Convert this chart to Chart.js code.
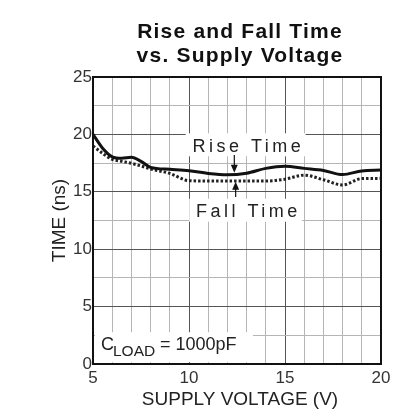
<!DOCTYPE html>
<html>
<head>
<meta charset="utf-8">
<script src="https://cdn.jsdelivr.net/npm/chart.js@4.4.0/dist/chart.umd.min.js"></script>
<style>
  html, body { margin: 0; padding: 0; background: #fff; }
  #wrap { width: 418px; height: 420px; }
</style>
</head>
<body>
<div id="wrap"><canvas id="chart" width="418" height="420"></canvas></div>
<script>
// Values
const voltage = [5, 5.5, 6, 6.5, 7, 7.5, 8, 9, 10, 11, 12, 13, 14, 15, 16, 17, 18, 19, 20];
const riseTime = [20.0, 18.8, 18.05, 17.92, 18.0, 17.65, 17.13, 16.96, 16.84, 16.6, 16.48, 16.62, 17.04, 17.22, 17.04, 16.86, 16.5, 16.82, 16.9];
const fallTime = [19.0, 18.35, 17.83, 17.65, 17.48, 17.25, 16.99, 16.6, 15.97, 15.94, 15.94, 15.94, 15.94, 16.1, 16.45, 16.05, 15.6, 16.15, 16.17];
const xTickLabels = [5, 10, 15, 20];
const yTickLabels = [0, 5, 10, 15, 20, 25];

const FONT = "'Liberation Sans', Arial, sans-serif";

// Build {x, y} points from the arrays
const toPoints = (ys) => voltage.map((v, i) => ({ x: v, y: ys[i] }));

// Title, axis titles, frame, callouts and the C_LOAD label
const overlay = {
  id: 'overlay',
  afterDraw(chart) {
    const { ctx, chartArea: a } = chart;
    const midX = (a.left + a.right) / 2;
    ctx.save();

    // frame around plot
    ctx.strokeStyle = '#111';
    ctx.lineWidth = 2;
    ctx.strokeRect(a.left, a.top, a.right - a.left, a.bottom - a.top);

    // chart title
    ctx.fillStyle = '#111';
    ctx.textAlign = 'center';
    ctx.textBaseline = 'alphabetic';
    ctx.font = 'bold 21px ' + FONT;
    ctx.letterSpacing = '1.2px';
    ctx.fillText('Rise and Fall Time', midX + 3, 38);
    ctx.fillText('vs. Supply Voltage', midX + 3, 62);

    // axis titles
    ctx.fillStyle = '#222';
    ctx.font = '19px ' + FONT;
    ctx.letterSpacing = '0px';
    ctx.fillText('SUPPLY VOLTAGE (V)', midX + 3, 405);
    ctx.save();
    ctx.translate(65, (a.top + a.bottom) / 2);
    ctx.rotate(-Math.PI / 2);
    ctx.fillText('TIME (ns)', 0, 0);
    ctx.restore();

    ctx.restore();
  },
  afterDatasetsDraw(chart) {
    const { ctx, chartArea: a, scales: { x, y } } = chart;
    ctx.save();

    ctx.font = '18px ' + FONT;
    ctx.letterSpacing = '3.5px';
    ctx.textAlign = 'center';
    ctx.textBaseline = 'alphabetic';
    const label = (txt, cx, cy) => {
      const w = ctx.measureText(txt).width;
      ctx.fillStyle = '#fff';
      ctx.fillRect(cx - w / 2 - 5, cy - 12, w + 8, 23);
      ctx.fillStyle = '#222';
      ctx.fillText(txt, cx + 1.75, cy + 6.5);
    };
    label('Rise Time', x.getPixelForValue(13.0), y.getPixelForValue(19.05));
    label('Fall Time', x.getPixelForValue(13.0), y.getPixelForValue(13.35));

    // arrows
    const arrow = (xv, y0, y1) => {
      const px = x.getPixelForValue(xv);
      const p0 = y.getPixelForValue(y0), p1 = y.getPixelForValue(y1);
      const dir = p1 > p0 ? 1 : -1;
      ctx.strokeStyle = '#111';
      ctx.lineWidth = 1.2;
      ctx.beginPath();
      ctx.moveTo(px, p0);
      ctx.lineTo(px, p1 - dir * 5);
      ctx.stroke();
      ctx.fillStyle = '#111';
      ctx.beginPath();
      ctx.moveTo(px, p1);
      ctx.lineTo(px - 3.5, p1 - dir * 8);
      ctx.lineTo(px + 3.5, p1 - dir * 8);
      ctx.closePath();
      ctx.fill();
    };
    arrow(12.36, 18.2, 16.66);
    arrow(12.43, 14.55, 15.88);

    // C_LOAD = 1000pF
    ctx.letterSpacing = '0px';
    const lx = a.left + 2, base = y.getPixelForValue(1.2);
    ctx.fillStyle = '#fff';
    ctx.fillRect(lx, base - 18, 158, 30);
    ctx.fillStyle = '#222';
    ctx.textAlign = 'left';
    ctx.font = '18px ' + FONT;
    ctx.fillText('C', lx + 6, base);
    ctx.font = '15.5px ' + FONT;
    ctx.fillText('LOAD', lx + 18, base + 6);
    ctx.font = '18px ' + FONT;
    ctx.fillText('= 1000pF', lx + 65, base);

    ctx.restore();
  }
};

new Chart(document.getElementById('chart'), {
  type: 'line',
  data: {
    datasets: [
      {
        label: 'Rise Time',
        data: toPoints(riseTime),
        borderColor: '#111',
        borderWidth: 3,
        pointRadius: 0,
        cubicInterpolationMode: 'monotone'
      },
      {
        label: 'Fall Time',
        data: toPoints(fallTime),
        borderColor: '#222',
        borderWidth: 3,
        borderDash: [2.5, 2],
        pointRadius: 0,
        cubicInterpolationMode: 'monotone'
      }
    ]
  },
  options: {
    responsive: false,
    animation: false,
    layout: { padding: { top: 77, right: 37, bottom: 0, left: 0 } },
    plugins: {
      legend: { display: false },
      tooltip: { enabled: false },
      title: { display: false }
    },
    scales: {
      x: {
        type: 'linear',
        min: 5,
        max: 20,
        ticks: {
          stepSize: 1,
          color: '#333',
          font: { family: FONT, size: 17 },
          padding: 4,
          maxRotation: 0,
          autoSkip: false,
          callback: (v) => xTickLabels.includes(v) ? String(v) : ''
        },
        grid: {
          drawTicks: false,
          color: (c) => c.tick && xTickLabels.includes(c.tick.value) ? '#555' : '#b5b5b5',
          lineWidth: 1
        },
        border: { display: false },
        afterFit: (s) => { s.height = 56; }
      },
      y: {
        min: 0,
        max: 25,
        ticks: {
          stepSize: 2.5,
          color: '#333',
          font: { family: FONT, size: 17 },
          padding: 1,
          autoSkip: false,
          callback: (v) => yTickLabels.includes(v) ? String(v) : ''
        },
        grid: {
          drawTicks: false,
          color: (c) => c.tick && yTickLabels.includes(c.tick.value) ? '#555' : '#b5b5b5',
          lineWidth: 1
        },
        border: { display: false },
        afterFit: (s) => { s.width = 93; }
      }
    }
  },
  plugins: [overlay]
});
</script>
</body>
</html>
